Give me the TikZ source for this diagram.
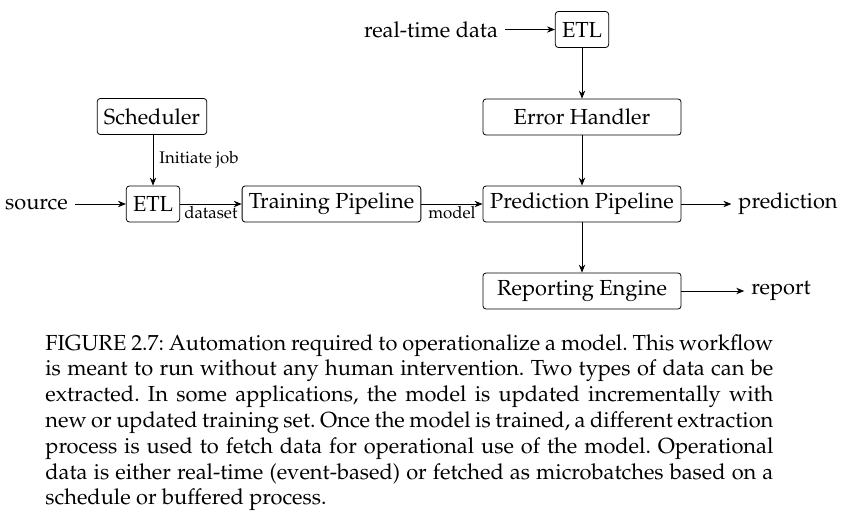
\documentclass[tikz,border=0pt]{standalone}
\usepackage[T1]{fontenc}
\usepackage{mathpazo}
\usetikzlibrary{arrows.meta}

\begin{document}
\begin{tikzpicture}[x=0.5pt,y=0.5pt,yscale=-1,xscale=1,
  font=\fontsize{10.9}{12.9}\selectfont,
  blockbox/.style={draw,rounded corners=1.5pt,minimum height=18pt,inner sep=3.33pt},
  widebox/.style={blockbox,minimum width=99pt},
  flow/.style={-{Stealth[length=4pt,width=3.2pt]}},
  edgelabel/.style={font=\fontsize{8.4}{10}\selectfont,inner sep=1pt}]
\useasboundingbox (0,0) rectangle (846,520);

%Shape: Rounded Rectangle [id:sched] 
\node [blockbox] (sched) at (152,116.5) {Scheduler};
%Shape: Rounded Rectangle [id:etlA] 
\node [blockbox] (etlA) at (153,204) {ETL};
%Shape: Rounded Rectangle [id:train] 
\node [blockbox] (train) at (331.5,204) {Training Pipeline};
%Shape: Rounded Rectangle [id:etlB] 
\node [blockbox] (etlB) at (582,29.5) {ETL};
%Shape: Rounded Rectangle [id:err] 
\node [widebox] (err) at (582,117) {Error Handler};
%Shape: Rounded Rectangle [id:pred] 
\node [widebox] (pred) at (582,204) {Prediction Pipeline};
%Shape: Rounded Rectangle [id:rep] 
\node [widebox] (rep) at (582,291) {Reporting Engine};

% Text Node
\node (src) at (36.5,204) {source};
% Text Node
\node (rtd) at (431,29.5) {real-time data};
% Text Node
\node (predout) at (788,204) {prediction};
% Text Node
\node (repout) at (781,291) {report};

%Straight Lines [id:arrows] 
\draw [flow] (sched.south -| etlA) -- node [right,edgelabel,xshift=2pt] {Initiate job} (etlA) ;
\draw [flow] (src) -- (etlA) ;
\draw [flow] (etlA) -- node [below,edgelabel] {dataset} (train) ;
\draw [flow] (train) -- node [below,edgelabel] {model} (pred) ;
\draw [flow] (rtd) -- (etlB) ;
\draw [flow] (etlB) -- (err) ;
\draw [flow] (err) -- (pred) ;
\draw [flow] (pred) -- (predout) ;
\draw [flow] (pred) -- (rep) ;
\draw [flow] (rep) -- (repout) ;

% Text Node
\node [anchor=north west,inner sep=0pt,text width=364pt,align=justify] (cap) at (45,334) {\frenchspacing FIGURE 2.7: Automation required to operationalize a model. This workflow\linebreak
is meant to run without any human intervention. Two types of data can be\linebreak
extracted. In some applications, the model is updated incrementally with\linebreak
new or updated training set. Once the model is trained, a different extraction\linebreak
process is used to fetch data for operational use of the model. Operational\linebreak
data is either real-time (event-based) or fetched as microbatches based on a\linebreak
schedule or buffered process.};

\end{tikzpicture}
\end{document}
